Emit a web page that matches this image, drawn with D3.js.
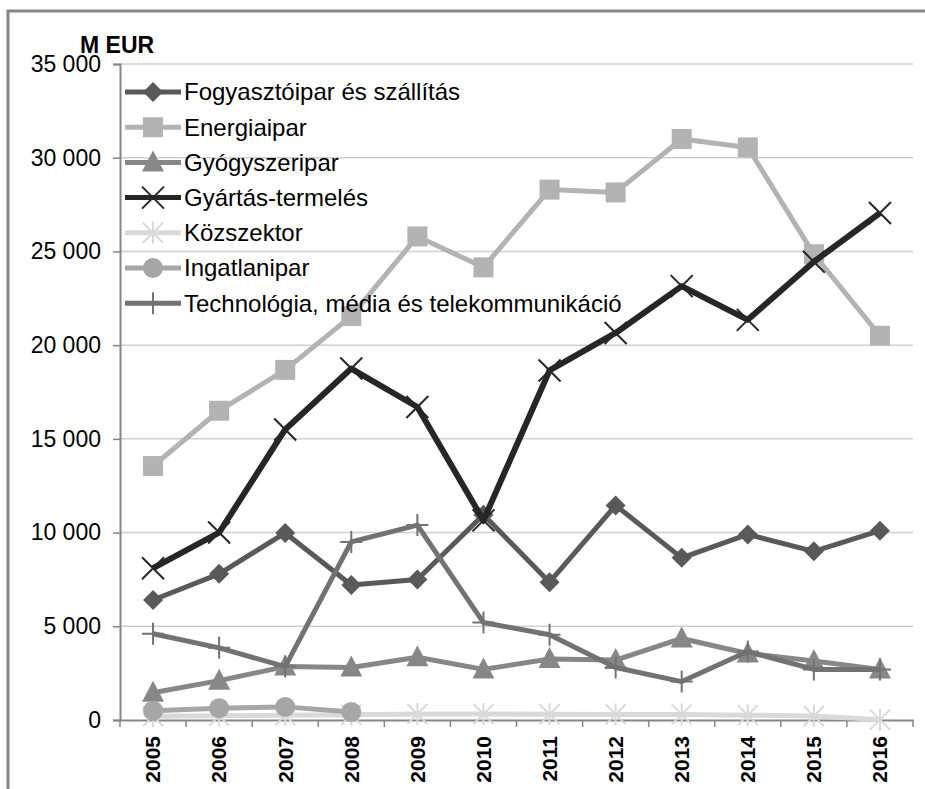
<!DOCTYPE html>
<html>
<head>
<meta charset="utf-8">
<script src="https://cdn.jsdelivr.net/npm/d3@7"></script>
<style>
  body { margin: 0; background: #fff; }
  svg { display: block; font-family: "Liberation Sans", Arial, sans-serif; }
</style>
</head>
<body>
<script>
const years = ["2005","2006","2007","2008","2009","2010","2011","2012","2013","2014","2015","2016"];
const yTicks = [0, 5000, 10000, 15000, 20000, 25000, 30000, 35000];

const fogyasztoipar = [6400, 7800, 9980, 7200, 7500, 10950, 7350, 11450, 8650, 9900, 9000, 10100];
const energiaipar   = [13550, 16500, 18680, 21550, 25800, 24150, 28300, 28150, 31000, 30550, 24850, 20500];
const gyogyszeripar = [1450, 2100, 2850, 2800, 3350, 2700, 3250, 3200, 4350, 3550, 3150, 2700];
const gyartas       = [8100, 10000, 15500, 18750, 16700, 10650, 18650, 20650, 23150, 21350, 24450, 27050];
const kozszektor    = [200, 230, 250, 280, 320, 320, 310, 300, 300, 260, 210, 20];
const ingatlanipar  = [500, 630, 700, 430, null, null, null, null, null, null, null, null];
const technologia   = [4600, 3850, 2850, 9500, 10400, 5200, 4550, 2800, 2050, 3650, 2700, 2700];

const seriesNames = ["Fogyasztóipar és szállítás", "Energiaipar", "Gyógyszeripar", "Gyártás-termelés",
                     "Közszektor", "Ingatlanipar", "Technológia, média és telekommunikáció"];
const seriesValues = [fogyasztoipar, energiaipar, gyogyszeripar, gyartas, kozszektor, ingatlanipar, technologia];
const seriesColors = ["#595959", "#b3b3b3", "#878787", "#262626", "#d9d9d9", "#a6a6a6", "#727272"];
const seriesMarkers = ["diamond", "square", "triangle", "x", "star", "circle", "plus"];

const width = 925, height = 789;
const plot = { left: 120, right: 913, top: 64, bottom: 720 };

const svg = d3.select("body").append("svg").attr("width", width).attr("height", height);

// outer frame (cut off at right / bottom)
svg.append("rect")
  .attr("x", 8).attr("y", 11).attr("width", 940).attr("height", 800)
  .attr("fill", "none").attr("stroke", "#868686").attr("stroke-width", 3);

const x = d3.scaleBand().domain(years).range([plot.left, plot.right]).padding(0);
const y = d3.scaleLinear().domain([0, 35000]).range([plot.bottom, plot.top]);
const cx = d => x(d) + x.bandwidth() / 2;

// gridlines
svg.append("g").selectAll("line").data(yTicks.filter(d => d > 0)).join("line")
  .attr("x1", plot.left).attr("x2", plot.right)
  .attr("y1", d => y(d)).attr("y2", d => y(d))
  .attr("stroke", "#d0d0d0").attr("stroke-width", 1.5);

// y axis
const fmt = d => d3.format(",")(d).replace(/,/g, " ");
const yAxis = svg.append("g").attr("transform", `translate(${plot.left},0)`)
  .call(d3.axisLeft(y).tickValues(yTicks).tickFormat(fmt).tickSize(7).tickPadding(12));
yAxis.select(".domain").attr("stroke", "#868686").attr("stroke-width", 2);
yAxis.selectAll(".tick line").attr("stroke", "#868686").attr("stroke-width", 1.5);
yAxis.selectAll("text").attr("font-size", 23).attr("fill", "#000")
  .attr("font-family", "Liberation Sans, Arial, sans-serif");

// x axis
const xAxis = svg.append("g").attr("transform", `translate(0,${plot.bottom})`)
  .call(d3.axisBottom(x).tickSize(0).tickSizeOuter(0));
xAxis.select(".domain").attr("stroke", "#868686").attr("stroke-width", 2);
xAxis.selectAll(".tick text")
  .attr("font-size", 21).attr("font-weight", "bold").attr("fill", "#000")
  .attr("font-family", "Liberation Sans, Arial, sans-serif")
  .attr("transform", "rotate(-90)")
  .attr("text-anchor", "end").attr("dy", "0.35em").attr("x", -16).attr("y", 0);
// tick marks between categories
svg.append("g").selectAll("line").data(d3.range(years.length + 1)).join("line")
  .attr("x1", i => plot.left + i * x.bandwidth()).attr("x2", i => plot.left + i * x.bandwidth())
  .attr("y1", plot.bottom).attr("y2", plot.bottom + 7)
  .attr("stroke", "#868686").attr("stroke-width", 1.5);

// unit label
svg.append("text").attr("x", 80).attr("y", 53)
  .attr("font-size", 23).attr("font-weight", "bold").text("M EUR");

// markers
function drawMarker(g, type, color, px, py) {
  const s = 10;
  if (type === "diamond") {
    g.append("path").attr("d", `M${px},${py - s}L${px + s},${py}L${px},${py + s}L${px - s},${py}Z`).attr("fill", color);
  } else if (type === "square") {
    g.append("rect").attr("x", px - 10).attr("y", py - 10).attr("width", 20).attr("height", 20).attr("fill", color);
  } else if (type === "triangle") {
    g.append("path").attr("d", `M${px},${py - 12}L${px + 11},${py + 9}L${px - 11},${py + 9}Z`).attr("fill", color);
  } else if (type === "circle") {
    g.append("circle").attr("cx", px).attr("cy", py).attr("r", 10).attr("fill", color);
  } else if (type === "x") {
    g.append("path").attr("d", `M${px - 11},${py - 11}L${px + 11},${py + 11}M${px - 11},${py + 11}L${px + 11},${py - 11}`)
      .attr("stroke", color).attr("stroke-width", 2);
  } else if (type === "star") {
    g.append("path").attr("d", `M${px - 10},${py - 10}L${px + 10},${py + 10}M${px - 10},${py + 10}L${px + 10},${py - 10}M${px},${py - 11}L${px},${py + 11}`)
      .attr("stroke", color).attr("stroke-width", 2);
  } else if (type === "plus") {
    g.append("path").attr("d", `M${px - 11},${py}L${px + 11},${py}M${px},${py - 11}L${px},${py + 11}`)
      .attr("stroke", color).attr("stroke-width", 2);
  }
}

const line = d3.line().defined(d => d.v !== null).x(d => cx(d.year)).y(d => y(d.v));

seriesValues.forEach((vals, i) => {
  const pts = years.map((yr, j) => ({ year: yr, v: vals[j] }));
  const g = svg.append("g");
  g.append("path").datum(pts).attr("d", line)
    .attr("fill", "none").attr("stroke", seriesColors[i])
    .attr("stroke-width", i === 3 ? 6 : 5).attr("stroke-linejoin", "round");
  pts.filter(p => p.v !== null).forEach(p => drawMarker(g, seriesMarkers[i], seriesColors[i], cx(p.year), y(p.v)));
});

// legend
const legend = svg.append("g");
seriesNames.forEach((name, i) => {
  const ly = 92 + i * 35.2;
  const g = legend.append("g");
  g.append("line").attr("x1", 125).attr("x2", 181).attr("y1", ly).attr("y2", ly)
    .attr("stroke", seriesColors[i]).attr("stroke-width", 5);
  drawMarker(g, seriesMarkers[i], seriesColors[i], 153, ly);
  g.append("text").attr("x", 184).attr("y", ly).attr("dy", "0.35em")
    .attr("font-size", 24).attr("fill", "#000").text(name);
});
</script>
</body>
</html>
